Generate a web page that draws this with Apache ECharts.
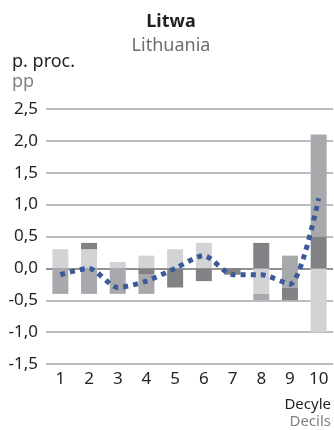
<!DOCTYPE html>
<html>
<head>
<meta charset="utf-8">
<script src="https://cdn.jsdelivr.net/npm/echarts@6/dist/echarts.min.js"></script>
<style>
  html, body { margin: 0; padding: 0; background: #fff; }
  #main { width: 334px; height: 430px; }
</style>
</head>
<body>
<div id="main"></div>
<script>
var deciles = ['1', '2', '3', '4', '5', '6', '7', '8', '9', '10'];
// bar components (p. proc.)
var lightPart  = [0.3, 0.3, 0.1, 0.2, 0.3, 0.4, 0, -0.4, 0, -1.0];
var mediumNear = [0, 0, 0, 0, 0, 0, 0, 0, -0.3, 0];
var darkPart   = [0, 0.1, 0, -0.1, -0.3, -0.2, -0.1, 0.4, -0.2, 0.5];
var mediumPart = [-0.4, -0.4, -0.4, -0.3, 0, 0, 0, -0.1, 0.2, 1.6];
// total change (dotted line)
var total = [-0.1, 0.0, -0.3, -0.2, 0.0, 0.2, -0.1, -0.1, -0.25, 1.1];

var LIGHT = '#d1d3d4', MEDIUM = '#a7a9ac', DARK = '#808285';
var FONT = 'Noto Sans';

var chart = echarts.init(document.getElementById('main'));

function bar(name, data, color) {
    return {
        name: name,
        type: 'bar',
        stack: 'a',
        barWidth: 16,
        data: data,
        itemStyle: { color: color },
        silent: true
    };
}

function label(text, x, y, size, color, align, bold) {
    return {
        type: 'text',
        x: x,
        y: y,
        style: {
            text: text,
            font: (bold ? 'bold ' : '') + size + 'px ' + FONT,
            fill: color,
            textAlign: align,
            textVerticalAlign: 'middle'
        }
    };
}

chart.setOption({
    animation: false,
    textStyle: { fontFamily: FONT },
    grid: { left: 46, right: 1, top: 109, bottom: 66, containLabel: false },
    xAxis: {
        type: 'category',
        data: deciles,
        axisLine: { show: false },
        axisTick: { show: false },
        axisLabel: { color: '#231f20', fontSize: 17, margin: 7 }
    },
    yAxis: {
        type: 'value',
        min: -1.5,
        max: 2.5,
        interval: 0.5,
        axisLine: { show: false },
        axisTick: { show: false },
        axisLabel: {
            color: '#231f20',
            fontSize: 17,
            margin: 8,
            formatter: function (v) { return v.toFixed(1).replace('.', ','); }
        },
        splitLine: {
            lineStyle: {
                width: 1.5,
                color: ['#a7a9ac', '#a7a9ac', '#a7a9ac', '#6d6e71', '#a7a9ac', '#a7a9ac', '#a7a9ac', '#a7a9ac', '#a7a9ac']
            }
        }
    },
    series: [
        bar('light', lightPart, LIGHT),
        bar('medium2', mediumNear, MEDIUM),
        bar('dark', darkPart, DARK),
        bar('medium', mediumPart, MEDIUM),
        {
            name: 'total',
            type: 'line',
            data: total,
            smooth: 0.25,
            showSymbol: false,
            z: 5,
            lineStyle: { color: '#3b5998', width: 5, type: [5, 5], cap: 'butt' }
        }
    ],
    graphic: [
        label('Litwa', 171, 22, 18, '#231f20', 'center', true),
        label('Lithuania', 171, 46, 18, '#6d6e71', 'center'),
        label('p. proc.', 12, 62, 18, '#231f20', 'left'),
        label('pp', 12, 82, 18, '#808285', 'left'),
        label('Decyle', 331, 405, 15, '#231f20', 'right'),
        label('Decils', 331, 422, 15, '#808285', 'right')
    ]
});
</script>
</body>
</html>
